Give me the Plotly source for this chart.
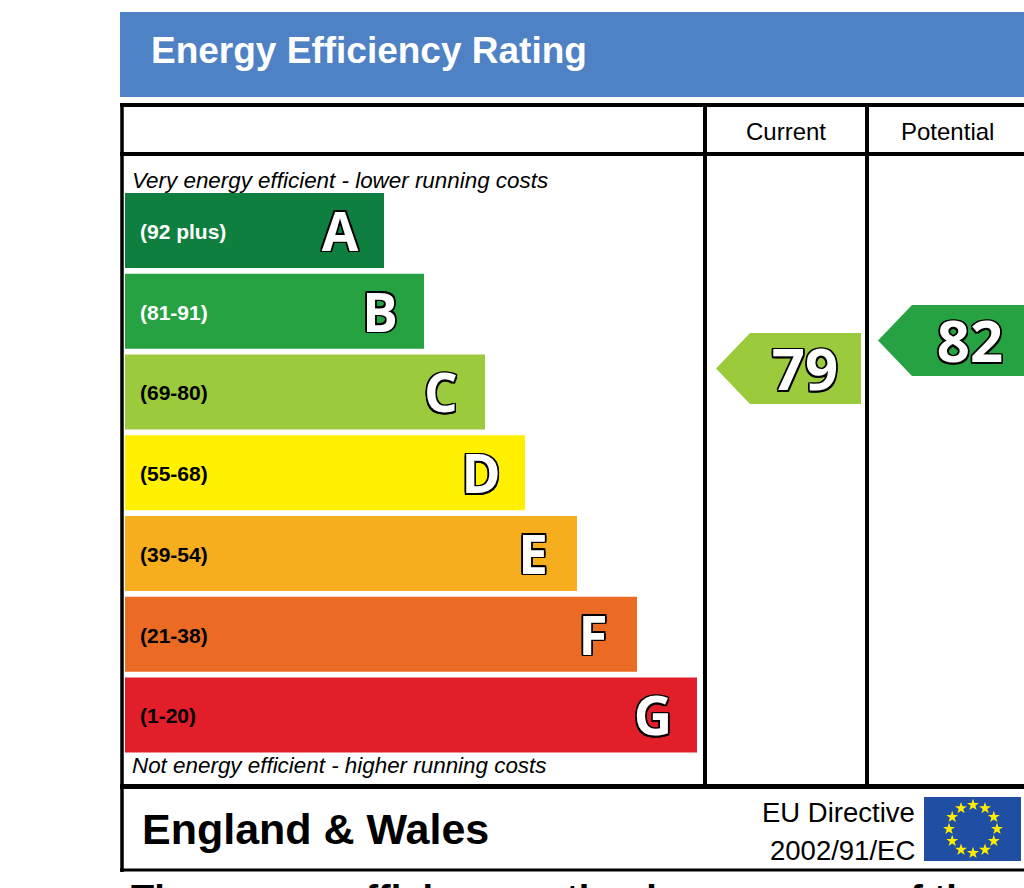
"""Energy Efficiency Rating (EPC) chart recreated with Plotly."""
import math

import plotly.graph_objects as go

BANDS = ["A", "B", "C", "D", "E", "F", "G"]
RANGES = ["(92 plus)", "(81-91)", "(69-80)", "(55-68)", "(39-54)", "(21-38)", "(1-20)"]
BAND_MIN = [92, 81, 69, 55, 39, 21, 1]
BAR_LENGTH = [259, 299, 360, 400, 452, 512, 572]
BAND_COLORS = ["#0f7f3f", "#27a243", "#9bcb3c", "#fff100", "#f6ae1e", "#ec6b24", "#e21e2a"]
RANGE_TEXT_COLORS = ["white", "white", "black", "black", "black", "black", "black"]
CURRENT = 79
POTENTIAL = 82

W, H = 1024, 888
ARIAL = "Liberation Sans, Arial, sans-serif"
ROUND = "Open Sans, DejaVu Sans, sans-serif"
OUTLINE = ("-1.5px -1.5px 0 #000, 1.5px -1.5px 0 #000, -1.5px 1.5px 0 #000, "
           "1.5px 1.5px 0 #000, 0 1.5px 0 #000, 0 -1.5px 0 #000, 1.5px 0 0 #000, -1.5px 0 0 #000")

# pixel layout of the bands
BAR_X0 = 125
ROW0 = 230.5
ROW_STEP = 80.75
BAR_H = 75
LETTER_INSET = 44
ROUND_DROP = 7      # Open Sans sits high when middle-aligned
LABEL_DROP = 3

# score scale (right-hand columns): pixel y = SCORE_PX0 - SCORE_PX_PER_PT * score
SCORE_PX_PER_PT = 9.33
SCORE_PX0 = 368.5 + SCORE_PX_PER_PT * 79
ARROW_HALF = 35.5 / SCORE_PX_PER_PT
ARROW_HEAD = 34


def band_color(score: int) -> str:
    for lo, color in zip(BAND_MIN, BAND_COLORS):
        if score >= lo:
            return color
    return BAND_COLORS[-1]


def add_arrow(fig: go.Figure, score: int, tip_x: float, right_x: float, text_x: float) -> None:
    xs = [tip_x, tip_x + ARROW_HEAD, right_x, right_x, tip_x + ARROW_HEAD, tip_x]
    ys = [score, score + ARROW_HALF, score + ARROW_HALF, score - ARROW_HALF, score - ARROW_HALF, score]
    fig.add_trace(go.Scatter(
        x=xs, y=ys, yaxis="y2", mode="lines", fill="toself",
        fillcolor=band_color(score), line=dict(width=0), hoverinfo="skip",
    ))
    fig.add_trace(go.Scatter(
        x=[text_x], y=[score - ROUND_DROP / SCORE_PX_PER_PT], yaxis="y2", mode="text",
        text=[str(score)], textposition="middle center", cliponaxis=False,
        textfont=dict(family=ROUND, size=58, weight="bold", color="white", shadow=OUTLINE),
        hoverinfo="skip",
    ))


def main() -> None:
    fig = go.Figure()
    rows = [ROW0 + i * ROW_STEP for i in range(len(BANDS))]

    fig.add_trace(go.Bar(
        orientation="h", y=rows, x=BAR_LENGTH, base=BAR_X0, width=BAR_H,
        marker=dict(color=BAND_COLORS, line=dict(width=0)), hoverinfo="skip",
    ))
    fig.add_trace(go.Scatter(
        x=[BAR_X0 + length - LETTER_INSET for length in BAR_LENGTH],
        y=[r + ROUND_DROP for r in rows],
        mode="text", text=BANDS, textposition="middle center",
        textfont=dict(family=ROUND, size=53, weight="bold", color="white", shadow=OUTLINE),
        hoverinfo="skip",
    ))
    fig.add_trace(go.Scatter(
        x=[BAR_X0 + 15] * len(RANGES), y=[r + LABEL_DROP for r in rows], mode="text", text=RANGES,
        textposition="middle right",
        textfont=dict(family=ARIAL, size=21, weight="bold", color=RANGE_TEXT_COLORS),
        hoverinfo="skip",
    ))

    add_arrow(fig, CURRENT, 716, 861, 805)
    add_arrow(fig, POTENTIAL, 878, 1030, 970)

    # EU flag stars
    stars = 12
    fig.add_trace(go.Scatter(
        x=[973 + 24 * math.cos(2 * math.pi * k / stars) for k in range(stars)],
        y=[829 + 24 * math.sin(2 * math.pi * k / stars) for k in range(stars)],
        mode="markers", marker=dict(symbol="star", size=9, color="#ffed00", line=dict(width=0)),
        hoverinfo="skip",
    ))

    line = dict(color="black")
    shapes = [
        dict(type="rect", x0=120, x1=1030, y0=12, y1=97, fillcolor="#4f81c5", line=dict(width=0), layer="below"),
        dict(type="rect", x0=924, x1=1021, y0=797, y1=861, fillcolor="#1f4ea2", line=dict(width=0), layer="below"),
        dict(type="line", x0=120, x1=1030, y0=105, y1=105, line=dict(line, width=4)),
        dict(type="line", x0=120, x1=1030, y0=154, y1=154, line=dict(line, width=4)),
        dict(type="line", x0=120, x1=1030, y0=786.5, y1=786.5, line=dict(line, width=5)),
        dict(type="line", x0=120, x1=1030, y0=870, y1=870, line=dict(line, width=3)),
        dict(type="line", x0=122, x1=122, y0=103, y1=872, line=dict(line, width=3.5)),
        dict(type="line", x0=705, x1=705, y0=103, y1=786, line=dict(line, width=4)),
        dict(type="line", x0=867, x1=867, y0=103, y1=786, line=dict(line, width=4)),
    ]

    def note(text, x, y, size, xanchor="left", color="black", bold=False, italic=False, yanchor="middle"):
        return dict(
            text=text, x=x, y=y, xref="x", yref="y", xanchor=xanchor, yanchor=yanchor,
            showarrow=False, borderpad=0,
            font=dict(family=ARIAL, size=size, color=color,
                      weight="bold" if bold else "normal", style="italic" if italic else "normal"),
        )

    annotations = [
        note("Energy Efficiency Rating", 150, 50, 37, color="white", bold=True),
        note("Current", 786, 131, 24, xanchor="center"),
        note("Potential", 947, 131, 24, xanchor="center"),
        note("Very energy efficient - lower running costs", 131, 180, 22.4, italic=True),
        note("Not energy efficient - higher running costs", 131, 765, 22.4, italic=True),
        note("England & Wales", 141, 829, 43, bold=True),
        note("EU Directive", 916, 812, 27.5, xanchor="right"),
        note("2002/91/EC", 916, 850, 27.5, xanchor="right"),
        # sentence that continues below the picture's lower edge
        note("The energy efficiency rating is a measure of the", 130, 877, 38, bold=True, yanchor="top"),
    ]

    fig.update_layout(
        width=W, height=H, margin=dict(l=0, r=0, t=0, b=0),
        paper_bgcolor="white", plot_bgcolor="white", showlegend=False,
        xaxis=dict(range=[0, W], visible=False, fixedrange=True),
        yaxis=dict(range=[H, 0], visible=False, fixedrange=True),
        yaxis2=dict(range=[(SCORE_PX0 - H) / SCORE_PX_PER_PT, SCORE_PX0 / SCORE_PX_PER_PT],
                    overlaying="y", visible=False, fixedrange=True),
        shapes=shapes, annotations=annotations,
    )
    fig.write_html(
        "out.html",
        config={"displayModeBar": False},
        post_script="document.body.style.margin = '0'; document.body.style.overflow = 'hidden';",
    )


if __name__ == "__main__":
    main()
